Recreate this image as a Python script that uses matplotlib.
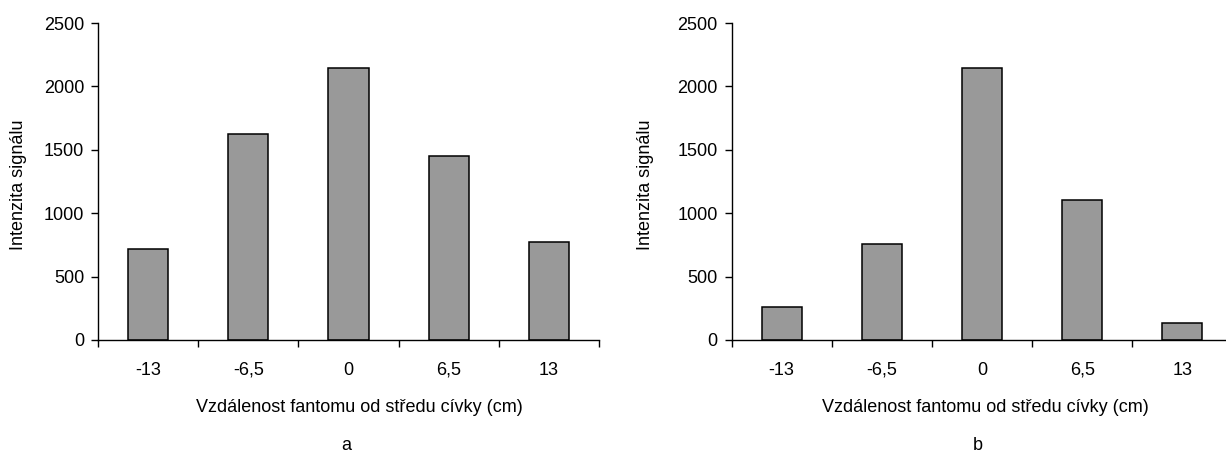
import matplotlib
matplotlib.use("Agg")
import matplotlib.pyplot as plt
import numpy as np

categories = ["-13", "-6,5", "0", "6,5", "13"]
values_a = [717, 1627, 2145, 1452, 769]
values_b = [257, 759, 2145, 1107, 136]
yticks = [0, 500, 1000, 1500, 2000, 2500]
ylabel = "Intenzita signálu"
xlabel = "Vzdálenost fantomu od středu cívky (cm)"
panel_labels = ["a", "b"]

plt.rcParams['font.family'] = ['Liberation Sans', 'DejaVu Sans']
plt.rcParams['font.size'] = 13

W, H = 1226, 457
fig = plt.figure(figsize=(W / 100, H / 100), dpi=100)

def px(x0, y_top, w, h):
    return [x0 / W, (H - y_top - h) / H, w / W, h / H]

axes_specs = [
    (98.0, values_a, 359.5, 346.7, 18.5),
    (731.5, values_b, 985.3, 978.0, 645.0),
]

for (x0, vals, xl_center, pl_center, yl_x), plabel in zip(axes_specs, panel_labels):
    ax = fig.add_axes(px(x0, 23, 501, 317))
    x = np.arange(len(categories))
    ax.bar(x, vals, width=0.4, color="#999999", edgecolor="black", linewidth=1.1, zorder=2)
    ax.set_xlim(-0.5, len(categories) - 0.5)
    ax.set_ylim(0, 2500)
    ax.set_yticks(yticks)
    ax.set_yticklabels([str(v) for v in yticks])
    ax.set_xticks(x)
    ax.set_xticklabels(categories)
    ax.set_xticks(np.arange(-0.5, len(categories) + 0.5, 1.0), minor=True)
    ax.tick_params(axis='x', which='major', length=0, pad=15.5)
    ax.tick_params(axis='x', which='minor', length=5, width=1, direction='out')
    ax.tick_params(axis='y', which='major', length=5, width=1, direction='out', pad=5)
    for s in ['top', 'right']:
        ax.spines[s].set_visible(False)
    for s in ['left', 'bottom']:
        ax.spines[s].set_linewidth(1.0)
    ax.set_ylabel(ylabel)
    ax.yaxis.set_label_coords((yl_x - x0) / 501, 0.49)
    ax.yaxis.label.set_va('center')
    fig.text(xl_center / W, (H - 408) / H, xlabel, ha='center', va='center')
    fig.text(pl_center / W, (H - 446) / H, plabel, ha='center', va='center')

fig.savefig("out.png", dpi=100)
